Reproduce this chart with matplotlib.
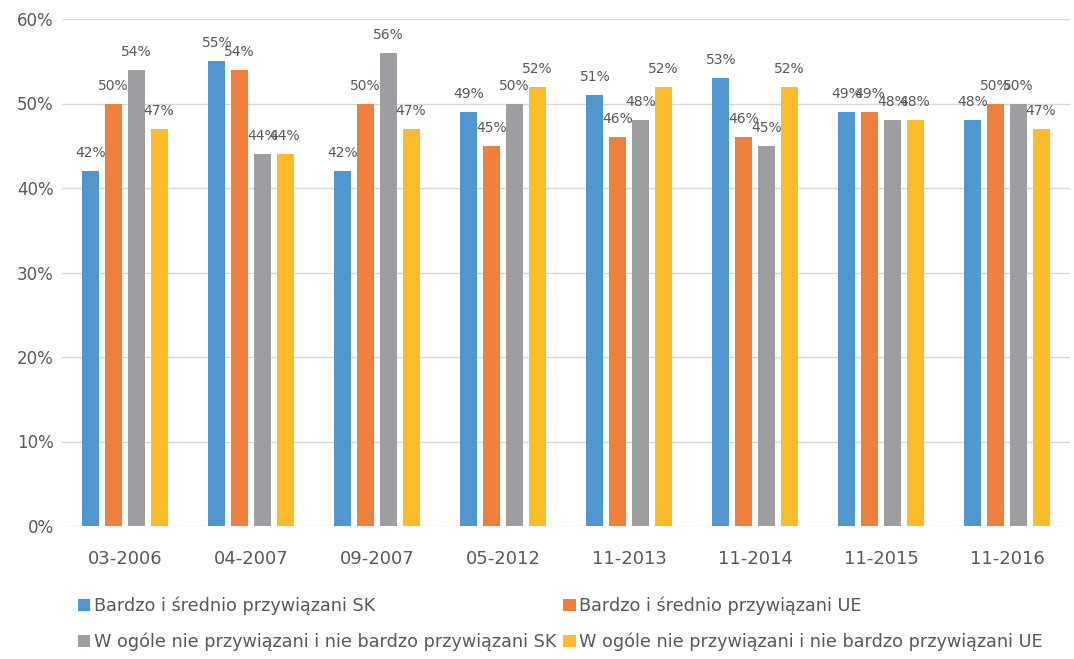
import matplotlib
matplotlib.use("Agg")
import matplotlib.pyplot as plt
import numpy as np

categories = ["03-2006", "04-2007", "09-2007", "05-2012", "11-2013", "11-2014", "11-2015", "11-2016"]
sk_attached = [42, 55, 42, 49, 51, 53, 49, 48]
ue_attached = [50, 54, 50, 45, 46, 46, 49, 50]
sk_not = [54, 44, 56, 50, 48, 45, 48, 50]
ue_not = [47, 44, 47, 52, 52, 52, 48, 47]
series_names = [
    "Bardzo i średnio przywiązani SK",
    "Bardzo i średnio przywiązani UE",
    "W ogóle nie przywiązani i nie bardzo przywiązani SK",
    "W ogóle nie przywiązani i nie bardzo przywiązani UE",
]
colors = ["#5096D1", "#EE7F3C", "#9C9EA1", "#FBBC2B"]

fig = plt.figure(figsize=(10.74, 6.59), dpi=100)
ax = fig.add_axes([62/1074, 1-526/659, (1070-62)/1074, (526-19)/659])

x = np.arange(len(categories))
pitch = 0.18
width = 0.135
all_series = [sk_attached, ue_attached, sk_not, ue_not]
handles = []
for i, (vals, col, name) in enumerate(zip(all_series, colors, series_names)):
    off = (i - 1.5) * pitch
    b = ax.bar(x + off, vals, width=width, color=col, label=name, zorder=3)
    handles.append(b)
    for xi, v in zip(x + off, vals):
        ax.text(xi, v + 1.3, f"{v}%", ha="center", va="bottom", fontsize=10, color="#595959")

ax.set_xlim(-0.5, len(categories) - 0.5)
ax.set_ylim(0, 60)
ax.set_yticks(range(0, 61, 10))
ax.set_yticklabels([f"{t}%" for t in range(0, 61, 10)], fontsize=12, color="#595959")
ax.set_xticks(x)
ax.set_xticklabels(categories, fontsize=13, color="#595959")
ax.tick_params(axis="both", length=0)
ax.tick_params(axis="x", pad=17)
ax.tick_params(axis="y", pad=6)
ax.grid(axis="y", color="#D9D9D9", linewidth=1, zorder=0)
for s in ax.spines.values():
    s.set_visible(False)

order = [0, 2, 1, 3]
fig.legend([handles[i] for i in order], [series_names[i] for i in order],
           ncol=2, loc="lower left", bbox_to_anchor=(62/1074, -0.012),
           frameon=False, handlelength=0.7, handleheight=0.7, handletextpad=0.2,
           columnspacing=0.4, labelspacing=1.0,
           prop={"size": 12.7},
           labelcolor="#595959")

fig.savefig("out.png", dpi=100)
